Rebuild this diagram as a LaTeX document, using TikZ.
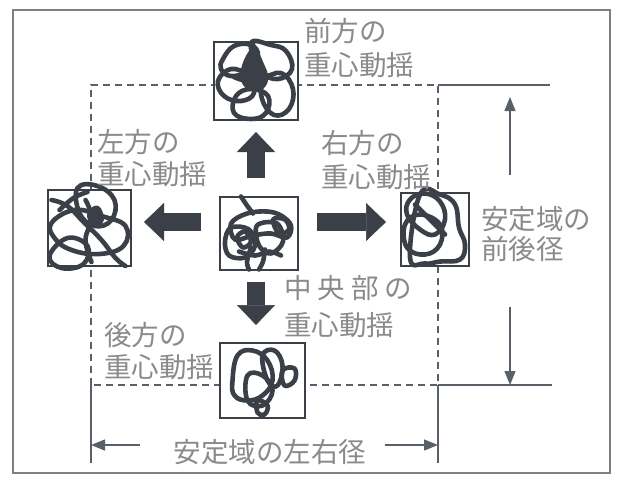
\documentclass[tikz,border=0pt]{standalone}
\usepackage{fontspec}
\newfontfamily\jp{Noto Sans CJK JP}
\usetikzlibrary{arrows.meta,calc}
\definecolor{ink}{HTML}{3A3F48}
\definecolor{txt}{HTML}{8A8A8A}
\definecolor{lnc}{HTML}{5A606A}
\definecolor{frm}{HTML}{7A7F88}
\begin{document}
\begin{tikzpicture}[x=1pt,y=-1pt,
  frame/.style={draw=frm,line width=1.5pt},
  dashln/.style={draw=lnc,line width=1.3pt,dash pattern=on 7pt off 5pt},
  ln/.style={draw=lnc,line width=1.3pt},
  dimarr/.style={draw=lnc,line width=1.3pt,-{Triangle[width=11pt,length=14pt]}},
  sbox/.style={draw=ink,line width=2pt,fill=white,inner sep=0pt,outer sep=0pt},
  scrib/.style={draw=ink,line width=4.6pt,line join=round,line cap=round},
  bigarr/.style={draw=ink,line width=18pt,-{Triangle[width=38pt,length=20pt,line width=0.5pt]}},
  lbl/.style={text=txt,inner sep=0pt,anchor=west,align=left}
]
\useasboundingbox (0,0) rectangle (618,480);
\fill[white] (0,0) rectangle (618,480);
\draw[frame] (13,10) rectangle (610,473);

% dashed stability region
\draw[dashln] (91,385) -- (91,85) -- (438,85) -- (438,385) -- cycle;

% dimension lines
\coordinate (tr1) at (438,85);
\coordinate (tr2) at (550,85);
\coordinate (br1) at (438,385);
\coordinate (br2) at (552,385);
\draw[ln] (tr1) -- (tr2);
\draw[ln] (br1) -- (br2);
\coordinate (vu0) at (510,175);
\coordinate (vu1) at (510,97);
\coordinate (vd0) at (510,307);
\coordinate (vd1) at (510,385);
\draw[dimarr] (vu0) -- (vu1);
\draw[dimarr] (vd0) -- (vd1);
\coordinate (ll0) at (91,385);
\coordinate (ll1) at (91,463);
\coordinate (rl0) at (438,385);
\coordinate (rl1) at (438,463);
\draw[ln] (ll0) -- (ll1);
\draw[ln] (rl0) -- (rl1);
\coordinate (ha0) at (140,445);
\coordinate (ha1) at (91,445);
\coordinate (hb0) at (385,445);
\coordinate (hb1) at (438,445);
\draw[dimarr] (ha0) -- (ha1);
\draw[dimarr] (hb0) -- (hb1);

% boxes
\node[sbox,minimum width=84pt,minimum height=78pt] (f) at (256,81) {};
\node[sbox,minimum width=83pt,minimum height=76pt] (l) at (89.5,228) {};
\node[sbox,minimum width=78pt,minimum height=73pt] (c) at (259,233.5) {};
\node[sbox,minimum width=68pt,minimum height=73pt] (r) at (435,229.5) {};
\node[sbox,minimum width=85pt,minimum height=75pt] (b) at (262.5,380.5) {};

% scribbles: front
\begin{scope}[shift={(f.center)}]
\draw[scrib] plot[smooth cycle,tension=0.7] coordinates {(-33,-22) (-22,-35) (-5,-36) (2,-25) (-8,-10) (-25,-5) (-35,-12)};
\draw[scrib] plot[smooth cycle,tension=0.7] coordinates {(-5,-38) (15,-36) (30,-30) (36,-12) (22,-2) (5,-10)};
\draw[scrib] plot[smooth cycle,tension=0.7] coordinates {(-38,0) (-25,-12) (-8,-5) (-2,12) (-15,20) (-32,15)};
\draw[scrib] plot[smooth cycle,tension=0.7] coordinates {(-20,15) (-5,8) (12,15) (10,32) (-5,38) (-22,32)};
\draw[scrib] plot[smooth cycle,tension=0.7] coordinates {(8,0) (25,-8) (37,8) (33,28) (18,34) (6,18)};
\draw[scrib,fill=ink] plot[smooth cycle,tension=0.7] coordinates {(-9,-22) (-2,-30) (5,-18) (10,-2) (2,8) (-10,4) (-13,-8)};
\draw[scrib] plot[smooth,tension=0.7] coordinates {(-3,-37) (-4,-26) (-2,-14)};
\draw[scrib] plot[smooth,tension=0.7] coordinates {(-22,-4) (-6,0) (14,-6)};
\end{scope}
% scribbles: left
\begin{scope}[shift={(l.center)}]
\draw[scrib] plot[smooth cycle,tension=0.7] coordinates {(-12,-40) (8,-42) (25,-28) (22,-8) (5,-2) (-10,-15)};
\draw[scrib] plot[smooth cycle,tension=0.7] coordinates {(-38,-5) (-15,-18) (12,-12) (36,-2) (34,18) (10,26) (-18,22) (-35,10)};
\draw[scrib] plot[smooth cycle,tension=0.7] coordinates {(-40,28) (-22,10) (-2,18) (-6,36) (-28,40)};
\draw[scrib] plot[smooth,tension=0.7] coordinates {(-38,-28) (-22,-22) (-5,-5) (12,12) (26,30) (36,38)};
\draw[scrib] plot[smooth,tension=0.7] coordinates {(-4,-28) (2,-10) (-4,12) (2,34)};
\draw[scrib] plot[smooth,tension=0.7] coordinates {(-30,-18) (-16,-30) (-2,-36)};
\draw[scrib,fill=ink] plot[smooth cycle,tension=0.7] coordinates {(0,-14) (8,-20) (12,-8) (4,-4)};
\end{scope}
% scribbles: centre
\begin{scope}[shift={(c.center)}]
\draw[scrib] plot[smooth,tension=0.6] coordinates {(-18,-37) (-12,-28) (-6,-20)};
\draw[scrib] plot[smooth cycle,tension=0.6] coordinates {(-28,-10) (-12,-20) (8,-22) (22,-18) (32,-8) (28,4) (12,0) (-6,2) (-24,6)};
\draw[scrib] plot[smooth cycle,tension=0.6] coordinates {(-34,8) (-28,-6) (-10,-4) (-4,12) (-14,24) (-30,22)};
\draw[scrib] plot[smooth cycle,tension=0.6] coordinates {(-2,-8) (18,-10) (24,8) (12,20) (0,12)};
\draw[scrib] plot[smooth,tension=0.6] coordinates {(-8,14) (-12,28) (-10,36)};
\draw[scrib] plot[smooth,tension=0.6] coordinates {(6,16) (4,28) (0,36)};
\draw[scrib] plot[smooth cycle,tension=0.6] coordinates {(-22,4) (-14,-2) (-8,8) (-16,14)};
\draw[scrib] plot[smooth,tension=0.6] coordinates {(-20,18) (-4,22) (10,18) (22,22)};
\draw[scrib] plot[smooth cycle,tension=0.6] coordinates {(14,-14) (26,-14) (30,-4) (20,0)};
\end{scope}
% scribbles: right
\begin{scope}[shift={(r.center)}]
\draw[scrib] plot[smooth cycle,tension=0.7] coordinates {(-25,-30) (-10,-36) (5,-28) (10,-10) (0,5) (-15,0) (-28,-15)};
\draw[scrib] plot[smooth cycle,tension=0.7] coordinates {(-30,-5) (-15,-15) (5,-5) (5,15) (-10,25) (-28,18)};
\draw[scrib] plot[smooth cycle,tension=0.7] coordinates {(-15,-35) (5,-35) (20,-25) (24,-2) (30,15) (25,30) (5,32) (-10,34) (-25,28)};
\draw[scrib] plot[smooth,tension=0.7] coordinates {(-20,-25) (-5,-10) (10,5)};
\end{scope}
% scribbles: back
\begin{scope}[shift={(b.center)}]
\draw[scrib] plot[smooth cycle,tension=0.7] coordinates {(-30,0) (-25,-25) (-10,-30) (5,-20) (10,0) (0,15) (-15,20) (-28,15)};
\draw[scrib] plot[smooth cycle,tension=0.7] coordinates {(-15,-5) (0,-5) (10,10) (0,25) (-15,20)};
\draw[scrib] plot[smooth cycle,tension=0.7] coordinates {(0,-25) (12,-30) (20,-15) (15,5) (5,0)};
\draw[scrib] plot[smooth cycle,tension=0.7] coordinates {(20,-10) (32,-12) (32,0) (22,5)};
\draw[scrib] plot[smooth cycle,tension=0.7] coordinates {(-5,20) (5,25) (2,34) (-5,32)};
\end{scope}

% big arrows
\coordinate (hy) at (0,222);
\draw[bigarr,shorten <=19pt,shorten >=12pt] (f.south |- c.north) -- (f.south);
\draw[bigarr,shorten <=12pt,shorten >=18pt] (f.south |- c.south) -- (f.south |- b.north);
\draw[bigarr,shorten <=19pt,shorten >=13pt] (c.west |- hy) -- (l.east |- hy);
\draw[bigarr,shorten <=19pt,shorten >=15pt] (c.east |- hy) -- (r.west |- hy);

% labels
\node[lbl,font=\jp\fontsize{27.5}{34}\selectfont] (tf) at (304,48) {前方の\\重心動揺};
\node[lbl,font=\jp\fontsize{27.5}{32}\selectfont] (tl) at (97,158) {左方の\\重心動揺};
\node[lbl,font=\jp\fontsize{27.5}{34}\selectfont] (tr) at (321,160) {右方の\\重心動揺};
\node[lbl,font=\jp\fontsize{27.5}{37}\selectfont] (tc) at (284,306.5) {中\hspace{6pt}央\hspace{6pt}部\hspace{6pt}の\\重心動揺};
\node[lbl,font=\jp\fontsize{27.5}{32}\selectfont] (tb) at (104,351) {後方の\\重心動揺};
\node[lbl,font=\jp\fontsize{27.5}{30}\selectfont] (fb) at (481,234) {安定域の\\前後径};
\node[text=txt,inner sep=0pt,font=\jp\fontsize{27.5}{34}\selectfont] (lr) at (270,452) {安定域の左右径};
\end{tikzpicture}
\end{document}
